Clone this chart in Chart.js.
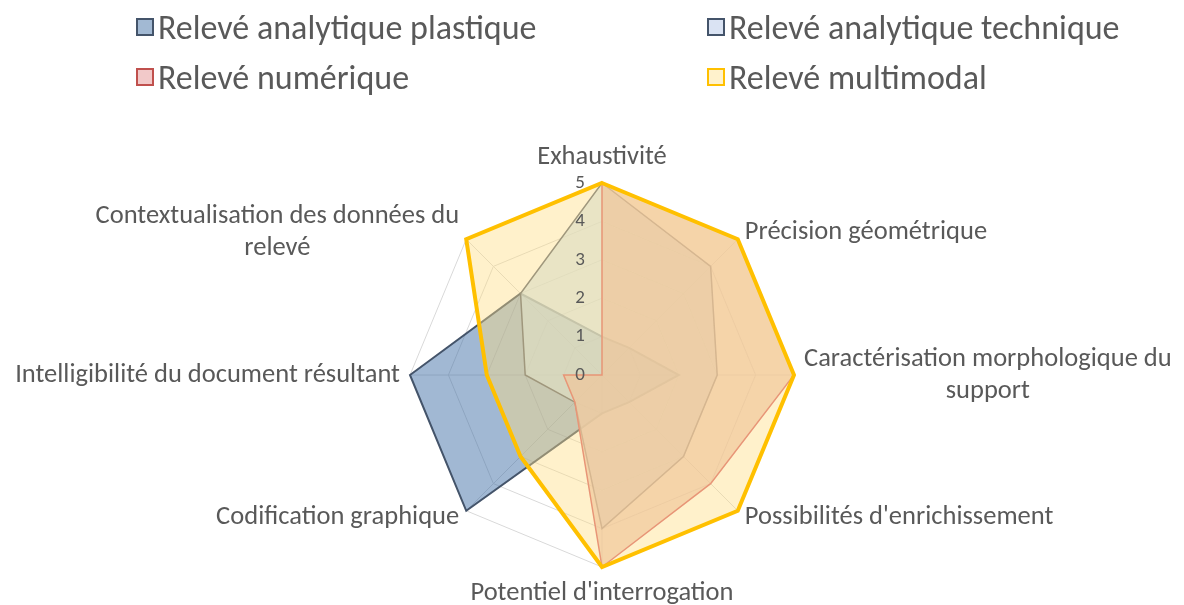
<!DOCTYPE html>
<html>
<head>
<meta charset="utf-8">
<script src="https://cdn.jsdelivr.net/npm/chart.js@4.4.1/dist/chart.umd.min.js"></script>
<style>
    body { margin: 0; background: #fff; }
    #wrap { position: relative; width: 1184px; height: 605px; }
    #radar { position: absolute; left: 0; top: 0; }
    .leg { position: absolute; display: flex; align-items: center; height: 20px;
           font: 34px Carlito, Lato, sans-serif; color: #595959; white-space: nowrap; }
    .leg .box { width: 14px; height: 14px; border: 2px solid; margin-right: 4px; flex: none; }
</style>
</head>
<body>
<div id="wrap">
    <canvas id="radar" width="1184" height="605"></canvas>
</div>
<script>
// axes of the radar (multi-line labels as arrays)
const categories = [
    "Exhaustivité",
    "Précision géométrique",
    ["Caractérisation morphologique du", "support"],
    "Possibilités d'enrichissement",
    "Potentiel d'interrogation",
    "Codification graphique",
    "Intelligibilité du document résultant",
    ["Contextualisation des données du", "relevé"]
];

const seriesNames = [
    "Relevé analytique plastique",
    "Relevé analytique technique",
    "Relevé numérique",
    "Relevé multimodal"
];

// scores 0..5, one per axis
const plastique  = [1, 1, 2, 1, 1, 5, 5, 3];
const technique  = [5, 4, 3, 3, 4, 1, 2, 3];
const numerique  = [5, 5, 5, 4, 5, 1, 1, 0];
const multimodal = [5, 5, 5, 5, 5, 3, 3, 5];

const tickValues = [0, 1, 2, 3, 4, 5];

const textColor = "#595959";
const fontFamily = "Carlito, Lato, sans-serif";

// fill / border / legend box for each series
const looks = [
    { fill: "rgba(68,114,168,0.5)",   border: "#44546A", width: 2,   box: "#A2B9D3", boxBorder: "#44546A" },
    { fill: "rgba(199,223,240,0.68)", border: "#5B6477", width: 1.5, box: "#DAE3F3", boxBorder: "#44546A" },
    { fill: "rgba(228,180,170,0.68)", border: "#D7616E", width: 1.5, box: "#F2C9C9", boxBorder: "#C0504D" },
    { fill: "rgba(255,222,130,0.42)", border: "#FFC000", width: 4,   box: "#FFF2CC", boxBorder: "#FFC000" }
];

const allSeries = [plastique, technique, numerique, multimodal];

// ---- legend (2 x 2 grid like the original)
const legendSpots = [[136, 17], [707, 17], [136, 67], [707, 67]];
seriesNames.forEach(function (name, i) {
    let item = document.createElement("div");
    item.className = "leg";
    item.style.left = legendSpots[i][0] + "px";
    item.style.top = legendSpots[i][1] + "px";
    let box = document.createElement("span");
    box.className = "box";
    box.style.background = looks[i].box;
    box.style.borderColor = looks[i].boxBorder;
    let txt = document.createElement("span");
    txt.textContent = name;
    item.appendChild(box);
    item.appendChild(txt);
    document.getElementById("wrap").appendChild(item);
});

// ---- axis names + tick numbers drawn from the radial scale
const axisText = {
    id: "axisText",
    afterDatasetsDraw(chart) {
        const scale = chart.scales.r;
        const ctx = chart.ctx;
        ctx.save();
        ctx.fillStyle = textColor;
        ctx.textBaseline = "middle";

        // tick numbers, a little left of the vertical axis
        ctx.font = "19px " + fontFamily;
        ctx.textAlign = "center";
        tickValues.forEach(function (v) {
            const p = scale.getPointPositionForValue(0, v);
            ctx.fillText(String(v), p.x - 22, p.y);
        });

        // category names
        ctx.font = "26.5px " + fontFamily;
        categories.forEach(function (lab, i) {
            const lines = Array.isArray(lab) ? lab : [lab];
            const probe = scale.getPointPosition(i, scale.drawingArea);
            const dx = probe.x - scale.xCenter;
            const vertical = Math.abs(dx) < 1;
            const p = scale.getPointPosition(i, scale.drawingArea + (vertical ? 26 : 10));
            const w = Math.max.apply(null, lines.map(l => ctx.measureText(l).width));
            let cx = p.x;
            if (!vertical) cx = dx > 0 ? p.x + w / 2 : p.x - w / 2;
            const lh = 32;
            const y0 = p.y - (lines.length - 1) * lh / 2;
            lines.forEach(function (l, k) {
                ctx.fillText(l, cx, y0 + k * lh);
            });
        });
        ctx.restore();
    }
};

// ---- chart
let ctx = document.getElementById("radar").getContext("2d");
new Chart(ctx, {
    type: "radar",
    data: {
        labels: categories,
        datasets: allSeries.map(function (vals, i) {
            return {
                label: seriesNames[i],
                data: vals,
                backgroundColor: looks[i].fill,
                borderColor: looks[i].border,
                borderWidth: looks[i].width,
                borderJoinStyle: "miter",
                pointRadius: 0,
                pointHoverRadius: 0,
                fill: true,
                order: 4 - i
            };
        })
    },
    options: {
        responsive: false,
        devicePixelRatio: 1,
        animation: false,
        layout: { padding: { left: 410, top: 183, right: 390, bottom: 38 } },
        plugins: {
            legend: { display: false },
            tooltip: { enabled: false }
        },
        scales: {
            r: {
                min: 0,
                max: 5,
                ticks: { display: false, stepSize: 1 },
                pointLabels: { display: false },
                grid: { color: "#D9D9D9", lineWidth: 1 },
                angleLines: { color: "#D9D9D9", lineWidth: 1 }
            }
        }
    },
    plugins: [axisText]
});
</script>
</body>
</html>
